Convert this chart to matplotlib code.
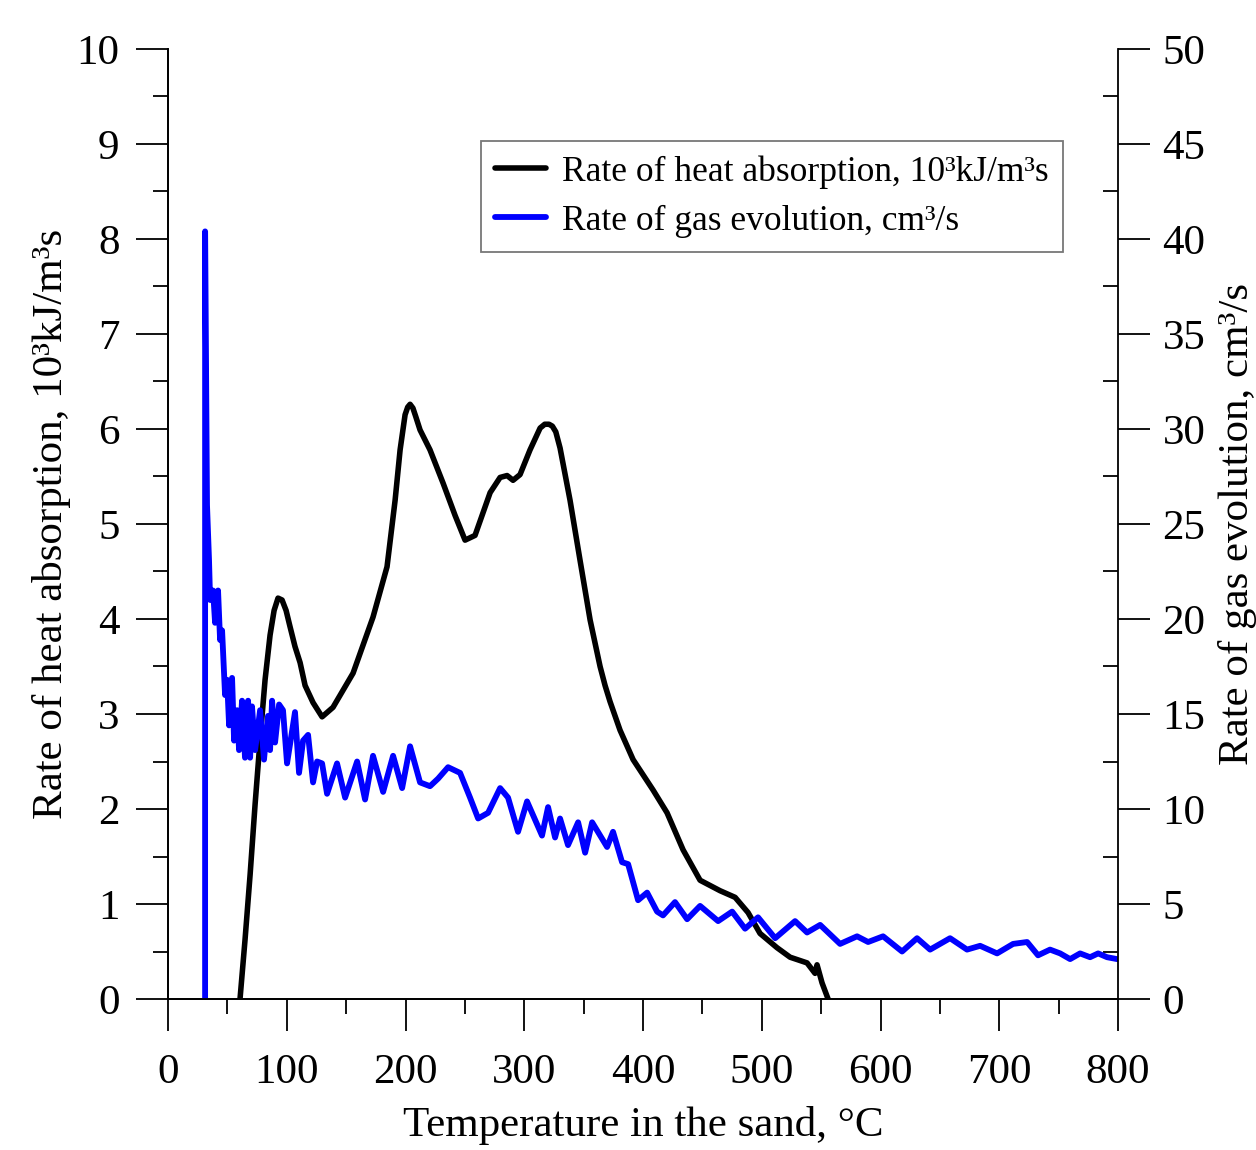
"""Heat absorption and gas evolution rates against sand temperature."""

import matplotlib
matplotlib.use('Agg')
import matplotlib.pyplot as plt
from matplotlib.ticker import MultipleLocator

plt.rcParams['font.family'] = ['Liberation Serif', 'DejaVu Serif']

# Rate of heat absorption, 10^3 kJ/m^3 s (left axis)
heat_temp = [60.6, 64.8, 69.1, 73.3, 77.5, 81.7, 85.9, 89.3, 92.6, 96.0,
             99.4, 102.5, 106.9, 111.2, 115.4, 122.1, 129.7, 138.9, 155.8,
             172.6, 184.4, 191.2, 195.4, 199.6, 201.8, 203.8, 206.2, 208.6,
             212.2, 220.6, 231.6, 241.7, 250.1, 258.5, 271.2, 279.6, 285.5,
             290.5, 296.4, 304.8, 313.3, 317.2, 320.8, 323.6, 326.5, 330.1,
             338.5, 346.9, 355.4, 363.8, 368.0, 372.2, 380.6, 391.6, 408.4,
             420.2, 433.7, 448.0, 464.8, 477.5, 488.4, 498.5, 512.8, 523.8,
             538.1, 544.8, 546.5, 550.7, 555.8]
heat_rate = [0.0, 0.62, 1.31, 2.05, 2.73, 3.36, 3.83, 4.09, 4.22, 4.20,
             4.09, 3.93, 3.71, 3.54, 3.30, 3.12, 2.97, 3.07, 3.43,
             4.02, 4.55, 5.25, 5.78, 6.15, 6.23, 6.26, 6.22, 6.13,
             5.99, 5.78, 5.43, 5.09, 4.83, 4.88, 5.33, 5.49, 5.51,
             5.46, 5.52, 5.78, 6.01, 6.05, 6.05, 6.03, 5.97, 5.80,
             5.25, 4.62, 3.99, 3.50, 3.30, 3.13, 2.83, 2.52, 2.20,
             1.96, 1.57, 1.25, 1.14, 1.07, 0.91, 0.69, 0.54, 0.44,
             0.38, 0.27, 0.36, 0.17, 0.0]

# Rate of gas evolution, cm^3/s (right axis)
gas_temp = [31.2, 31.2, 32.8, 34.5, 35.4, 37.9, 39.6, 42.1, 43.8, 45.5,
            48.0, 49.7, 51.4, 53.9, 55.6, 58.1, 59.8, 62.3, 64.8, 67.4,
            69.1, 70.7, 73.3, 77.5, 80.8, 84.2, 85.9, 87.6, 90.1, 93.5,
            96.8, 100.2, 102.7, 106.9, 110.3, 113.7, 117.9, 122.1, 125.5,
            129.7, 133.9, 142.3, 149.1, 159.2, 165.9, 172.6, 181.1, 189.5,
            197.1, 203.8, 212.2, 220.6, 227.4, 235.8, 245.9, 254.3, 261.1,
            269.5, 279.6, 286.3, 294.7, 302.3, 314.9, 320.0, 325.9, 330.1,
            336.8, 345.3, 351.2, 357.1, 369.7, 374.7, 382.3, 387.4, 395.8,
            403.4, 411.8, 416.8, 426.9, 437.1, 448.0, 463.2, 475.0, 485.9,
            496.8, 511.2, 528.0, 538.1, 549.1, 565.9, 580.2, 589.5, 602.1,
            618.1, 630.7, 641.7, 658.5, 672.8, 683.8, 698.1, 711.6, 723.4,
            732.6, 742.7, 751.2, 759.6, 768.0, 776.4, 783.2, 790.7, 799.2]
gas_rate = [0.0, 40.4, 26.0, 23.1, 21.0, 21.5, 19.8, 21.5, 18.9, 19.4,
            16.0, 16.8, 14.4, 16.9, 13.6, 15.2, 13.1, 15.7, 12.7, 15.7,
            12.7, 15.4, 13.1, 15.2, 12.6, 14.9, 13.1, 15.7, 13.5, 15.5,
            15.2, 12.4, 13.4, 15.1, 11.9, 13.6, 13.9, 11.4, 12.5,
            12.4, 10.8, 12.4, 10.6, 12.5, 10.5, 12.8, 10.9, 12.8,
            11.1, 13.3, 11.4, 11.2, 11.6, 12.2, 11.9, 10.6, 9.5,
            9.8, 11.1, 10.6, 8.8, 10.4, 8.6, 10.1, 8.5, 9.5,
            8.1, 9.3, 7.7, 9.3, 8.0, 8.8, 7.2, 7.1, 5.2,
            5.6, 4.6, 4.4, 5.1, 4.2, 4.9, 4.1, 4.6, 3.7,
            4.3, 3.2, 4.1, 3.5, 3.9, 2.9, 3.3, 3.0, 3.3,
            2.5, 3.2, 2.6, 3.2, 2.6, 2.8, 2.4, 2.9, 3.0,
            2.3, 2.6, 2.4, 2.1, 2.4, 2.2, 2.4, 2.2, 2.1]

heat_label = 'Rate of heat absorption, 10³kJ/m³s'
gas_label = 'Rate of gas evolution, cm³/s'
x_label = 'Temperature in the sand, °C'

fig = plt.figure(figsize=(12.56, 11.5), dpi=100)
ax = fig.add_axes([0.1338, 0.1313, 0.7564, 0.8261])
ax2 = ax.twinx()

heat_line, = ax.plot(heat_temp, heat_rate, color='black', lw=4.0,
                     solid_joinstyle='round', solid_capstyle='round',
                     zorder=3)
gas_line, = ax2.plot(gas_temp, gas_rate, color='#0000ff', lw=4.2,
                     solid_joinstyle='round', solid_capstyle='round')

ax.set_xlim(0, 800)
ax.set_ylim(0, 10)
ax2.set_ylim(0, 50)

ax.xaxis.set_major_locator(MultipleLocator(100))
ax.xaxis.set_minor_locator(MultipleLocator(50))
ax.yaxis.set_major_locator(MultipleLocator(1))
ax.yaxis.set_minor_locator(MultipleLocator(0.5))
ax2.yaxis.set_major_locator(MultipleLocator(5))
ax2.yaxis.set_minor_locator(MultipleLocator(2.5))

for a in (ax, ax2):
    a.spines['top'].set_visible(False)
    for s in a.spines.values():
        s.set_linewidth(1.3)
ax.spines['right'].set_visible(False)

ax.tick_params(axis='both', which='major', direction='out', length=23,
               width=1.3, labelsize=31)
ax.tick_params(axis='both', which='minor', direction='out', length=11,
               width=1.3)
ax.tick_params(axis='y', which='major', pad=12)
ax.tick_params(axis='x', which='major', pad=16)
ax2.tick_params(axis='y', which='major', direction='out', length=23,
                width=1.3, labelsize=31, pad=9)
ax2.tick_params(axis='y', which='minor', direction='in', length=11,
                width=1.3)

ax.set_xlabel(x_label, fontsize=31, labelpad=10)
ax.set_ylabel(heat_label, fontsize=31, labelpad=4)
ax2.set_ylabel(gas_label, fontsize=31, labelpad=9)

leg = ax2.legend([heat_line, gas_line], [heat_label, gas_label],
                 loc='upper right', bbox_to_anchor=(0.942, 0.903),
                 borderaxespad=0, fontsize=25.5, fancybox=False,
                 frameon=True, handlelength=1.45, handletextpad=0.45,
                 borderpad=0.4, labelspacing=0.45)
leg.get_frame().set_edgecolor('#555555')
leg.get_frame().set_linewidth(1.3)

fig.savefig('out.png', dpi=100)
